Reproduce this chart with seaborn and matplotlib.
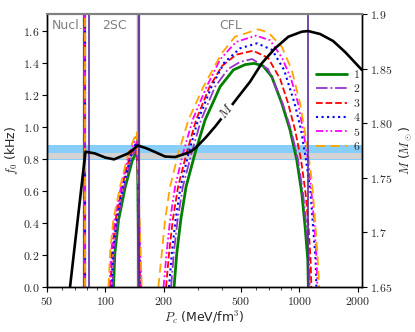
import matplotlib
matplotlib.use("Agg")
import matplotlib.pyplot as plt
from matplotlib.ticker import FixedLocator, FixedFormatter, NullFormatter
import pandas as pd
import seaborn as sns

# ---- data ----
MODELS = ["1", "2", "3", "4", "5", "6"]

# nuclear branch: f0 shoots up right at the Nucl./2SC boundary
NUCL_P = {
    "1": [77.8, 77.8], "2": [78.0, 78.0], "3": [78.2, 78.2],
    "4": [78.4, 78.4], "5": [78.6, 78.6], "6": [78.8, 78.8],
}
NUCL_F = [0.0, 1.75]

# 2SC branch (last point: drop at the 2SC/CFL boundary)
TWOSC_P = {
    "1": [110.1, 111.8, 116.8, 126.6, 137.6, 146.4, 148.7],
    "2": [108.8, 110.5, 115.4, 124.7, 135.5, 146.0, 149.9],
    "3": [106.2, 107.9, 112.8, 121.8, 133.1, 145.5, 150.8],
    "4": [107.5, 109.2, 114.1, 123.2, 134.7, 145.9, 151.7],
    "5": [105.0, 106.9, 111.4, 120.3, 132.3, 145.2, 153.0],
    "6": [103.7, 105.6, 109.8, 118.9, 131.2, 145.0, 153.9],
}
TWOSC_F = {
    "1": [0, 0.21, 0.418, 0.626, 0.79, 0.855, 0],
    "2": [0, 0.21, 0.418, 0.626, 0.80, 0.88, 0],
    "3": [0, 0.21, 0.418, 0.626, 0.81, 0.905, 0],
    "4": [0, 0.21, 0.418, 0.626, 0.81, 0.92, 0],
    "5": [0, 0.21, 0.418, 0.626, 0.83, 0.945, 0],
    "6": [0, 0.21, 0.418, 0.626, 0.834, 0.97, 0],
}

# CFL branch
CFL_P = {
    "1": [225.8, 233.1, 244.4, 260.3, 289.6, 326.1, 389.7, 456.3, 524.3, 583.4,
          649.3, 719.8, 810.6, 894.3, 968.4, 1028, 1069, 1104, 1111],
    "2": [217.9, 225.0, 235.4, 250.6, 277.8, 311.0, 367.2, 428.5, 494.1, 569.7,
          689.1, 818.3, 904.9, 983.4, 1043, 1088, 1121, 1131],
    "3": [205.3, 212.7, 222.3, 236.8, 261.8, 293.1, 344.1, 399.1, 471.2, 576.4,
          689.1, 794.3, 873.6, 948.8, 1019, 1075, 1114, 1141, 1152],
    "4": [212.7, 219.7, 229.8, 243.9, 268.2, 300.1, 352.3, 408.7, 494.1, 604.6,
          722.6, 832.9, 943.3, 1019, 1081, 1141, 1175, 1211, 1222],
    "5": [199.3, 206.5, 215.3, 228.5, 251.2, 281.2, 332.1, 389.7, 471.2, 597.5,
          705.6, 813.4, 904.9, 983.4, 1043, 1108, 1154, 1196, 1225, 1237],
    "6": [187.4, 195.1, 202.9, 215.3, 237.6, 267.6, 319.7, 397.6, 465.6, 612.0,
          689.1, 810.6, 912.4, 1007, 1091, 1157, 1203, 1243, 1262],
}
CFL_F = {
    "1": [0, 0.21, 0.418, 0.626, 0.835, 1.042, 1.25, 1.355, 1.388, 1.396,
          1.38, 1.313, 1.147, 0.98, 0.793, 0.585, 0.376, 0.168, 0],
    "2": [0, 0.21, 0.418, 0.626, 0.835, 1.042, 1.25, 1.36, 1.405, 1.423,
          1.36, 1.147, 0.98, 0.793, 0.585, 0.376, 0.168, 0],
    "3": [0, 0.21, 0.418, 0.626, 0.835, 1.042, 1.25, 1.38, 1.45, 1.475,
          1.43, 1.30, 1.147, 0.98, 0.793, 0.585, 0.376, 0.168, 0],
    "4": [0, 0.21, 0.418, 0.626, 0.835, 1.042, 1.25, 1.40, 1.49, 1.521,
          1.48, 1.355, 1.147, 0.98, 0.793, 0.585, 0.376, 0.168, 0],
    "5": [0, 0.21, 0.418, 0.626, 0.835, 1.042, 1.25, 1.42, 1.53, 1.569,
          1.54, 1.43, 1.30, 1.147, 0.98, 0.793, 0.585, 0.376, 0.168, 0],
    "6": [0, 0.21, 0.418, 0.626, 0.835, 1.042, 1.25, 1.459, 1.5625, 1.608,
          1.59, 1.50, 1.355, 1.147, 0.897, 0.668, 0.418, 0.168, 0],
}

# mass vs central pressure
MASS_P = [65.7, 78.9, 88.4, 99.5, 110.7, 130.8, 147.2, 163.9, 180.2, 202.9,
          228.5, 273.0, 289.6, 307.4, 326.1, 367.2, 421.9, 484.3, 556.4, 639.5,
          748.5, 876.6, 1028, 1108, 1277, 1490, 1718, 2100]
MASS_M = [1.65, 1.7739, 1.7723, 1.7686, 1.7669, 1.7723, 1.7796, 1.7768, 1.7736, 1.7695,
          1.7690, 1.7736, 1.7770, 1.7815, 1.7862, 1.7968, 1.8105, 1.8243, 1.8380, 1.8549,
          1.8686, 1.8792, 1.8838, 1.8844, 1.8817, 1.8753, 1.8652, 1.8487]

PHASE_EDGES = [78.0, 146.8]          # grey lines
UNSTABLE_EDGES = [82.0, 149.5, 1108]  # purple lines
BLUE_BAND = [0.793, 0.886]
GREY_BAND = [0.801, 0.838]
PHASE_NAMES = ["Nucl.", "2SC", "CFL"]
PHASE_LABEL_P = [64.0, 111.0, 440.0]

X_TICKS = [50, 100, 200, 500, 1000, 2000]
F_TICKS = [0.0, 0.2, 0.4, 0.6, 0.8, 1.0, 1.2, 1.4, 1.6]
M_TICKS = [1.65, 1.7, 1.75, 1.80, 1.85, 1.9]
M_TICK_LABELS = ["1.65", "1.7", "1.75", "1.80", "1.85", "1.9"]

# ---- styles ----
COLOURS = ["green", "darkorchid", "red", "blue", "magenta", "orange"]
LINESTYLES = ["-", "-.", "--", ":", (0, (4, 1.5, 1, 1.5, 1, 1.5)), (0, (5, 3))]
WIDTHS = [2.0, 1.3, 1.3, 1.5, 1.3, 1.3]

rows = []
for m in MODELS:
    for p, f in zip(NUCL_P[m], NUCL_F):
        rows.append((m, "nucl", p, f))
    for p, f in zip(TWOSC_P[m], TWOSC_F[m]):
        rows.append((m, "2sc", p, f))
    for p, f in zip(CFL_P[m], CFL_F[m]):
        rows.append((m, "cfl", p, f))
data = pd.DataFrame(rows, columns=["model", "phase", "P", "f"])
mass = pd.DataFrame({"P": MASS_P, "M": MASS_M})

sns.set_theme(style="ticks")
plt.rcParams["mathtext.fontset"] = "cm"
plt.rcParams["font.family"] = ["DejaVu Sans"]

fig = plt.figure(figsize=(4.15, 3.32), dpi=100)
ax = fig.add_axes([0.1133, 0.1355, 0.759, 0.8223])
ax2 = ax.twinx()

ax.axhspan(*BLUE_BAND, color="lightskyblue", lw=0, zorder=0)
ax.axhspan(*GREY_BAND, color="lightgray", lw=0, zorder=0.5)
for p in PHASE_EDGES:
    ax.axvline(p, color="darkgray", lw=2.5, zorder=1)
for p in UNSTABLE_EDGES:
    ax.axvline(p, color="#5b2c9a", lw=1.2, zorder=3)

for m, c, ls, lw in zip(MODELS, COLOURS, LINESTYLES, WIDTHS):
    for phase in ["nucl", "2sc", "cfl"]:
        sub = data[(data["model"] == m) & (data["phase"] == phase)]
        sns.lineplot(data=sub, x="P", y="f", ax=ax, sort=False, estimator=None,
                     color=c, linestyle=ls, linewidth=lw, zorder=2,
                     label=m if phase == "cfl" else None, legend=False)

sns.lineplot(data=mass, x="P", y="M", ax=ax2, sort=False, estimator=None,
             color="black", linewidth=1.9, legend=False)
ax2.text(421.9, 1.8105, "$M$", rotation=52, ha="center", va="center", fontsize=9.5,
         bbox=dict(facecolor="white", edgecolor="none", pad=0.5))

for name, p in zip(PHASE_NAMES, PHASE_LABEL_P):
    ax.text(p, 1.635, name, color="gray", ha="center", va="center", fontsize=9)

ax.set_xscale("log")
ax.set_xlim(50, 2100)
ax.set_ylim(0, 1.704)
ax2.set_ylim(1.65, 1.9)

ax.xaxis.set_major_locator(FixedLocator(X_TICKS))
ax.xaxis.set_major_formatter(FixedFormatter([f"${t}$" for t in X_TICKS]))
ax.xaxis.set_minor_formatter(NullFormatter())
ax.yaxis.set_major_locator(FixedLocator(F_TICKS))
ax.yaxis.set_major_formatter(FixedFormatter([f"${t:.1f}$" for t in F_TICKS]))
ax2.yaxis.set_major_locator(FixedLocator(M_TICKS))
ax2.yaxis.set_major_formatter(FixedFormatter([f"${t}$" for t in M_TICK_LABELS]))

for a in (ax, ax2):
    a.tick_params(axis="both", which="major", labelsize=8.5, length=3.5, width=0.8,
                  color="black", pad=2)
    a.tick_params(axis="both", which="minor", length=2, width=0.6)
    for s in a.spines.values():
        s.set_color("black")
        s.set_linewidth(1.0)
    a.spines["top"].set_color("gray")
    a.spines["top"].set_linewidth(1.5)

ax.set_xlabel("$P_c$ (MeV/fm$^3$)", fontsize=9, labelpad=1)
ax.set_ylabel("$f_0$ (kHz)", fontsize=9, labelpad=2)
ax2.set_ylabel("$M$ ($M_\\odot$)", fontsize=9, labelpad=4)

handles, labels = ax.get_legend_handles_labels()
leg = ax2.legend(handles, [f"${lab}$" for lab in labels], loc="upper left",
                 bbox_to_anchor=(0.84, 0.82), frameon=False, fontsize=8.5,
                 handlelength=2.6, labelspacing=0.12, borderaxespad=0,
                 handletextpad=0.5)

fig.savefig("out.png", dpi=100)
